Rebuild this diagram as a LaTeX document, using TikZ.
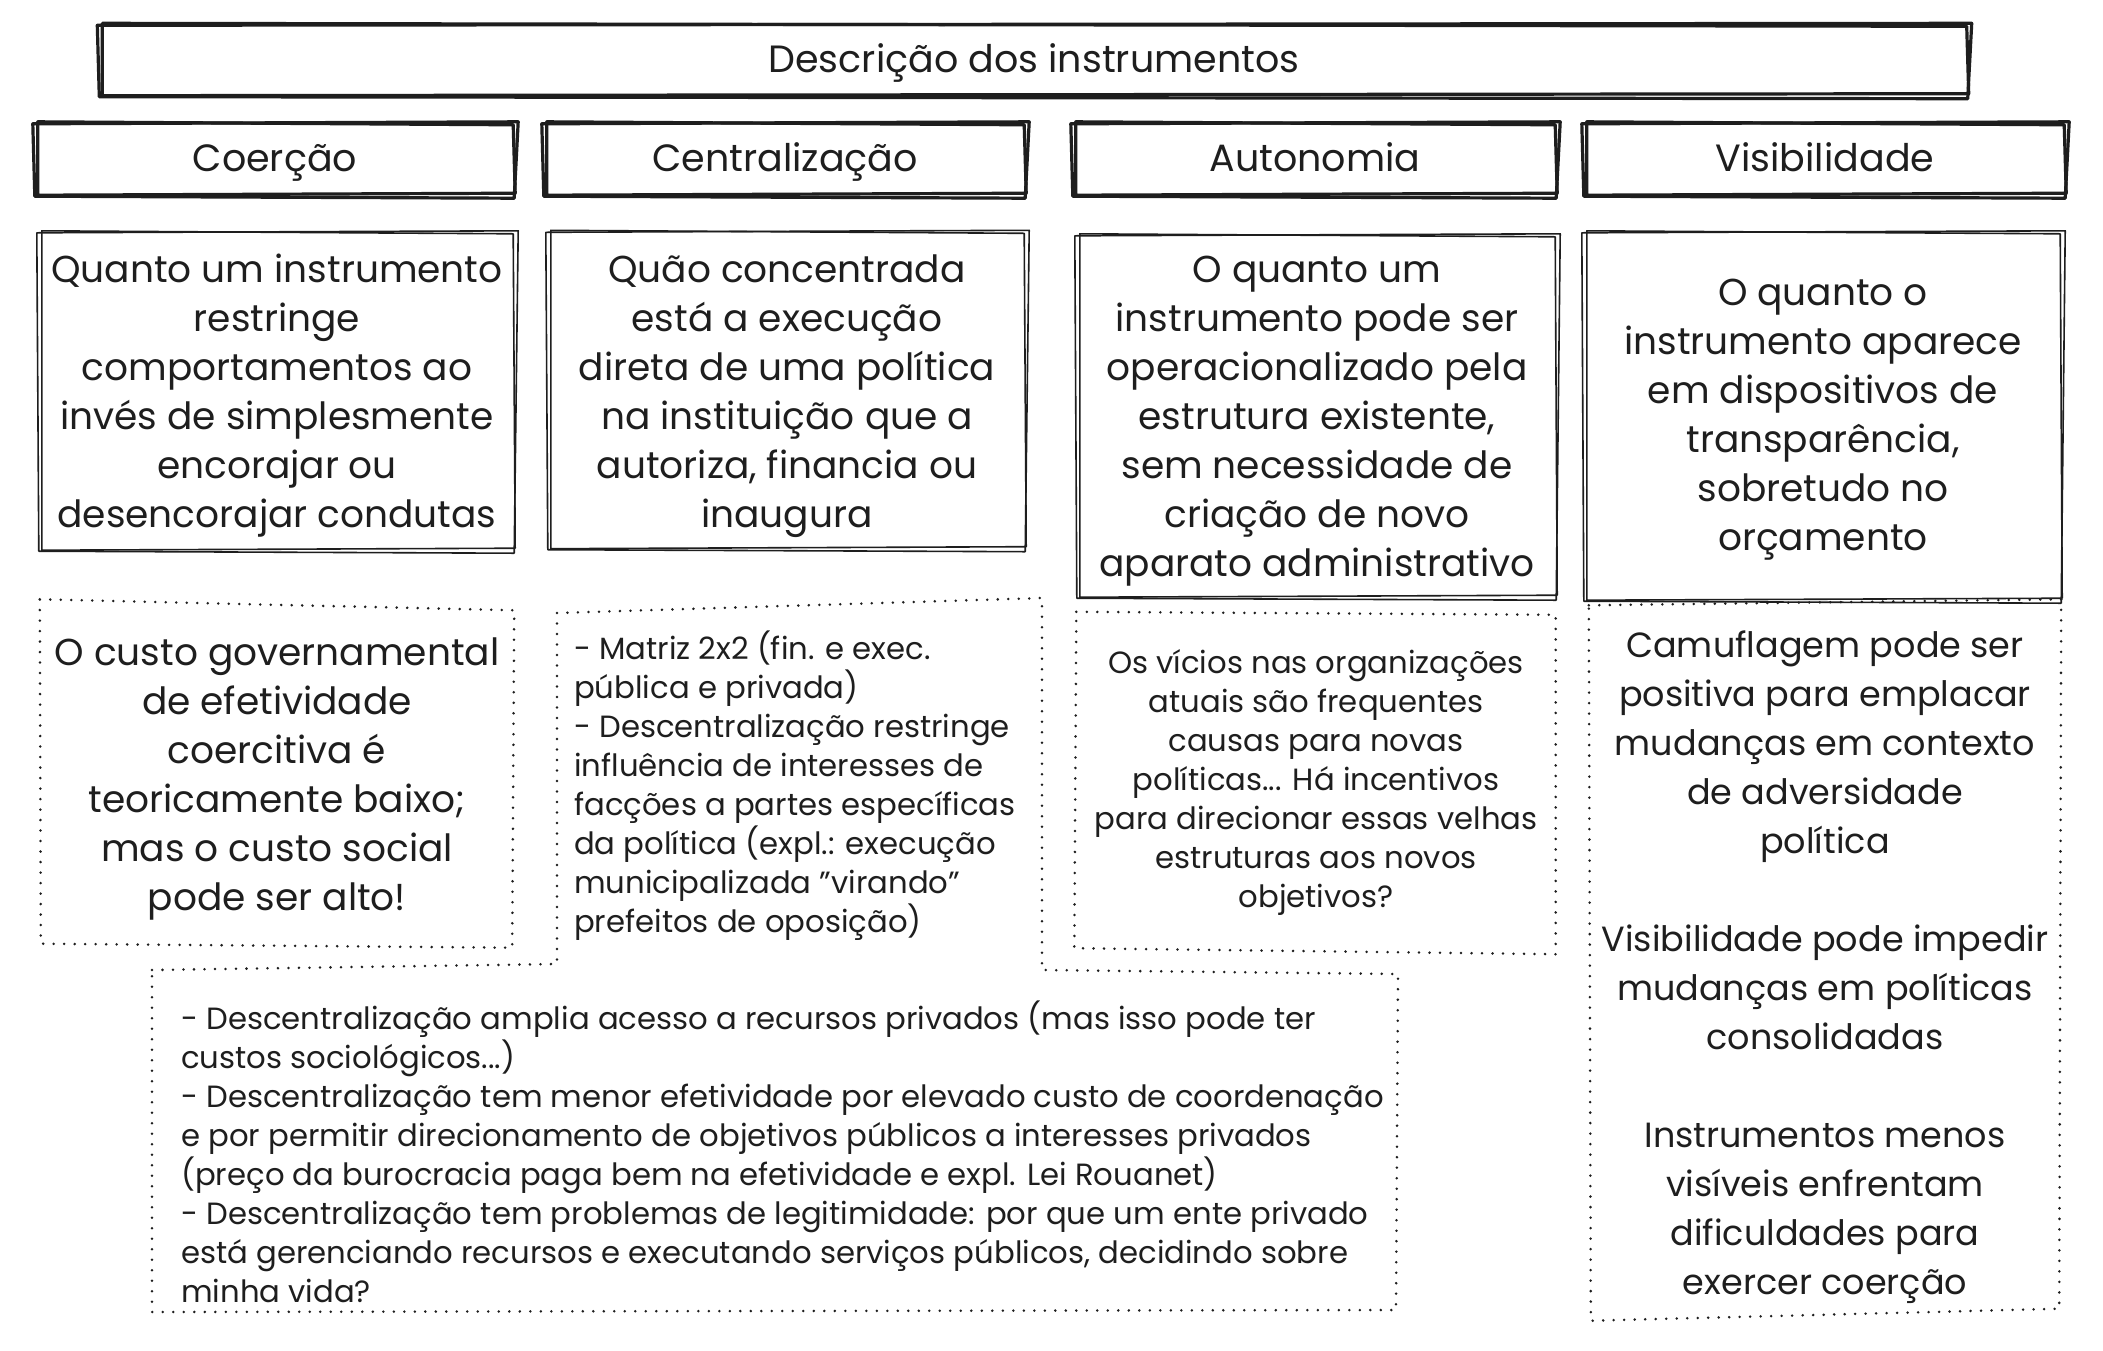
\documentclass[tikz,border=0pt]{standalone}
\usepackage{fontspec}
\setmainfont{Poppins}
\definecolor{ink}{HTML}{1E1E1E}
\tikzset{
  bigtxt/.style={font=\fontsize{37.5}{49}\selectfont, align=center, text=ink, inner sep=0pt},
  headtxt/.style={font=\fontsize{38}{49}\selectfont, align=center, text=ink, inner sep=0pt, text height=31pt, text depth=7pt},
  smalltxt/.style={font=\fontsize{30.7}{39}\selectfont, text=ink, inner sep=0pt},
  skthick/.style={draw=ink, line width=3.2pt, line join=round, line cap=round},
  skthin/.style={draw=ink, line width=1.6pt, line join=round, line cap=round},
  dotline/.style={draw=ink, line width=2.8pt, dash pattern=on 0pt off 10.5pt, line cap=round}
}
\newcommand\sketchrect[2]{%
  \draw[#1] ([shift={(-3,1)}]#2.north west) -- ([shift={(4,-1)}]#2.north east) -- ([shift={(0,3)}]#2.south east) -- ([shift={(-1,1)}]#2.south west) -- cycle;
  \draw[#1] ([shift={(2,-1)}]#2.north west) -- ([shift={(-1,2)}]#2.north east) -- ([shift={(1,-2)}]#2.south east) -- ([shift={(2,0)}]#2.south west) -- cycle;
}
\begin{document}
\begin{tikzpicture}[x=1pt,y=-1pt]
\fill[white] (0,0) rectangle (2103,1350);
\useasboundingbox (0,0) rectangle (2103,1350);

% title
\node[headtxt, minimum width=1867pt, minimum height=71pt] (title) at (1034,60) {Descrição dos instrumentos};
\sketchrect{skthick}{title}

% headers
\node[headtxt, minimum width=478pt, minimum height=72pt] (h1) at (275,159) {Coerção};
\node[headtxt, minimum width=480pt, minimum height=72pt] (h2) at (785,159) {Centralização};
\node[headtxt, minimum width=482pt, minimum height=72pt] (h3) at (1315,159) {Autonomia};
\node[headtxt, minimum width=480pt, minimum height=72pt] (h4) at (1825,159) {Visibilidade};
\sketchrect{skthick}{h1}
\sketchrect{skthick}{h2}
\sketchrect{skthick}{h3}
\sketchrect{skthick}{h4}

% definitions (outline nodes)
\node[minimum width=474pt, minimum height=318pt, inner sep=0pt] (b1) at (277,391) {};
\node[minimum width=476pt, minimum height=317pt, inner sep=0pt] (b2) at (787,390) {};
\node[minimum width=478pt, minimum height=362pt, inner sep=0pt] (b3) at (1317,416) {};
\node[minimum width=476pt, minimum height=368pt, inner sep=0pt] (b4) at (1823,416) {};
\node[bigtxt] (t1) at (277,396)
  {Quanto um instrumento\\restringe\\comportamentos ao\\invés de simplesmente\\encorajar ou\\desencorajar condutas};
\node[bigtxt] (t2) at (787,396)
  {Quão concentrada\\está a execução\\direta de uma política\\na instituição que a\\autoriza, financia ou\\inaugura};
\node[bigtxt] (t3) at (1317,421)
  {O quanto um\\instrumento pode ser\\operacionalizado pela\\estrutura existente,\\sem necessidade de\\criação de novo\\aparato administrativo};
\node[bigtxt] (t4) at (1823,420)
  {O quanto o\\instrumento aparece\\em dispositivos de\\transparência,\\sobretudo no\\orçamento};
\sketchrect{skthin}{b1}
\sketchrect{skthin}{b2}
\sketchrect{skthin}{b3}
\sketchrect{skthin}{b4}

% notes (outline nodes)
\node[minimum width=474pt, minimum height=347pt, inner sep=0pt] (d1) at (277,774) {};
\node[minimum width=479pt, minimum height=342pt, inner sep=0pt] (d3) at (1316,781) {};
\node[minimum width=472pt, minimum height=717pt, inner sep=0pt] (d4) at (1825,962) {};
\node[bigtxt] (n1) at (277,779)
  {O custo governamental\\de efetividade\\coercitiva é\\teoricamente baixo;\\mas o custo social\\pode ser alto!};
\node[smalltxt, align=center] (n3) at (1316,782)
  {Os vícios nas organizações\\atuais são frequentes\\causas para novas\\políticas... Há incentivos\\para direcionar essas velhas\\estruturas aos novos\\objetivos?};
\node[bigtxt, font=\fontsize{35}{49}\selectfont] (n4) at (1825,967)
  {Camuflagem pode ser\\positiva para emplacar\\mudanças em contexto\\de adversidade\\política\\[49pt]Visibilidade pode impedir\\mudanças em políticas\\consolidadas\\[49pt]Instrumentos menos\\visíveis enfrentam\\dificuldades para\\exercer coerção};
\node[smalltxt, align=left, anchor=west] (n2) at (574,786)
  {- Matriz 2x2 (fin. e exec.\\pública e privada)\\- Descentralização restringe\\influência de interesses de\\facções a partes específicas\\da política (expl.: execução\\municipalizada "virando"\\prefeitos de oposição)};
\node[smalltxt, align=left, anchor=west] (n5) at (181,1152)
  {- Descentralização amplia acesso a recursos privados (mas isso pode ter\\custos sociológicos...)\\- Descentralização tem menor efetividade por elevado custo de coordenação\\e por permitir direcionamento de objetivos públicos a interesses privados\\(preço da burocracia paga bem na efetividade e expl. Lei Rouanet)\\- Descentralização tem problemas de legitimidade: por que um ente privado\\está gerenciando recursos e executando serviços públicos, decidindo sobre\\minha vida?};

% dotted outlines
\draw[dotline] ([shift={(0,-1)}]d1.north west) -- ([shift={(0,10)}]d1.north east) -- ([shift={(-2,0)}]d1.south east) -- ([shift={(1,-4)}]d1.south west) -- cycle;
\draw[dotline] ([shift={(0,2)}]d3.north west) -- ([shift={(0,5)}]d3.north east) -- ([shift={(0,2)}]d3.south east) -- ([shift={(-2,-4)}]d3.south west) -- cycle;
\draw[dotline] ([shift={(0,2)}]d4.north west) -- ([shift={(0,-4)}]d4.north east) -- ([shift={(-2,-12)}]d4.south east) -- ([shift={(2,0)}]d4.south west) -- cycle;
\draw[dotline] (152,970) -- (557,964) -- (557,613) -- (1042,598) -- (1042,970) -- (1398,974) -- (1396,1310) -- (152,1312) -- cycle;
\end{tikzpicture}
\end{document}
